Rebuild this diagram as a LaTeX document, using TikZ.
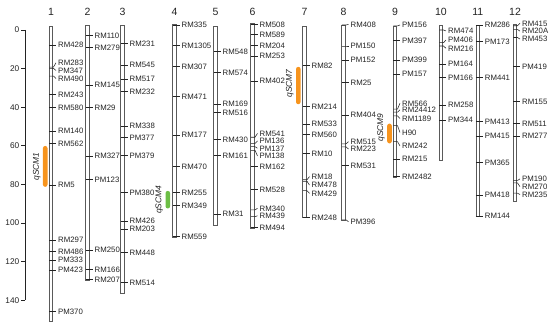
\documentclass[tikz,border=0pt]{standalone}
\usepackage{fontspec}
\setmainfont{Liberation Sans}
\usetikzlibrary{positioning}
\definecolor{qtlorange}{RGB}{247,148,29}
\definecolor{qtlgreen}{RGB}{108,190,69}
\definecolor{chromgray}{RGB}{90,90,90}
\definecolor{textgray}{RGB}{35,35,35}

\begin{document}
\begin{tikzpicture}[
    x=1pt, y={(0pt,-1.929pt)},
    chrom/.style={draw=chromgray, fill=white, line width=0.8pt},
    tick/.style={draw=textgray, line width=0.55pt},
    mlabel/.style={anchor=west, inner sep=0pt, text height=5.6pt, text depth=0pt, text=textgray, font=\fontsize{7.8}{8}\selectfont},
    axnum/.style={anchor=east, inner sep=0pt, text height=5.9pt, text depth=0pt, text=textgray, font=\fontsize{8.3}{9}\selectfont},
    chrnum/.style={inner sep=0pt, text=textgray, font=\fontsize{10.5}{11}\selectfont},
    qtlbar/.style={rectangle, rounded corners=2.3pt, minimum width=4.6pt, inner sep=0pt, anchor=north},
    qtllabel/.style={rotate=90, anchor=south, inner sep=0.5pt, text=textgray, font=\fontsize{8.4}{9}\selectfont\itshape}
]
    \useasboundingbox (0,-15.55) rectangle (550,153.45);

    % axis
    \draw[tick] (25,0) -- (25,140);
    \foreach \v in {0,20,...,140}{
        \node[axnum] (ax\v) at (19.5,\v) {\v};
        \draw[tick] ([xshift=1.5pt]ax\v.east) -- (25,\v);
    }

    % chromosome 1
    \draw[chrom] (49.25,-2.1) rectangle (52.75,151.2);
    \node[chrnum] (n1) at (51,-9.4) {1};
    \foreach \t/\l/\m in {7.8/7.8/RM428, 19.2/17/RM283, 19.9/21/PM347, 23.9/25.2/RM490, 33.3/33.3/RM243, 40.1/40.1/RM580, 52.4/52.4/RM140, 58.7/58.7/RM562, 80.4/80.4/RM5, 108.9/108.9/RM297, 114.9/114.9/RM486, 119.2/119.2/PM333, 124.4/124.4/PM423, 146/146/PM370}{
        \node[mlabel] (c1-\m) at (58,\l) {\m};
        \draw[tick] (49.25,\t) -- (53.5,\t) -- ([xshift=-2pt]c1-\m.west);
    }
    \node[qtlbar, fill=qtlorange, minimum height=40.9pt] (qtl1) at (45.2,60) {};
    \node[qtllabel] (qtl1lab) at ([xshift=-1.5pt]qtl1.west) {qSCM1};

    % chromosome 2
    \draw[chrom] (85.75,-2.6) rectangle (89.25,129.8);
    \node[chrnum] (n2) at (87.5,-9.4) {2};
    \foreach \t/\l/\m in {2.9/2.9/RM110, 9.2/9.2/RM279, 28.5/28.5/RM145, 40.1/40.1/RM29, 65.3/65.3/RM327, 77.4/77.4/PM123, 114/114/RM250, 124.1/124.1/RM166, 129.3/129.3/RM207}{
        \node[mlabel] (c2-\m) at (94.5,\l) {\m};
        \draw[tick] (85.75,\t) -- (90,\t) -- ([xshift=-2pt]c2-\m.west);
    }

    % chromosome 3
    \draw[chrom] (120.75,-2.6) rectangle (124.25,136.5);
    \node[chrnum] (n3) at (122.5,-9.4) {3};
    \foreach \t/\l/\m in {6.9/6.9/RM231, 18.1/18.1/RM545, 25.4/25.4/RM517, 32/32/RM232, 49.8/49.8/RM338, 55.7/55.7/PM377, 65.2/65.2/PM379, 84.2/84.2/PM380, 99/99/RM426, 103.2/103.2/RM203, 115.2/115.2/RM448, 131/131/RM514}{
        \node[mlabel] (c3-\m) at (129.5,\l) {\m};
        \draw[tick] (120.75,\t) -- (125,\t) -- ([xshift=-2pt]c3-\m.west);
    }

    % chromosome 4
    \draw[chrom] (172.75,-2.8) rectangle (176.25,107.3);
    \node[chrnum] (n4) at (174.5,-9.4) {4};
    \foreach \t/\l/\m in {-2.6/-2.6/RM335, 8.1/8.1/RM1305, 19/19/RM307, 34.6/34.6/RM471, 54.4/54.4/RM177, 70.9/70.9/RM470, 84.2/84.2/RM255, 91.1/91.1/RM349, 107.1/107.1/RM559}{
        \node[mlabel] (c4-\m) at (181.5,\l) {\m};
        \draw[tick] (172.75,\t) -- (177,\t) -- ([xshift=-2pt]c4-\m.west);
    }
    \node[qtlbar, fill=qtlgreen, minimum height=17.6pt] (qtl4) at (167.8,83.3) {};
    \node[qtllabel] (qtl4lab) at ([xshift=-1.5pt]qtl4.west) {qSCM4};

    % chromosome 5
    \draw[chrom] (213.75,-2.1) rectangle (217.25,101.4);
    \node[chrnum] (n5) at (215.5,-9.4) {5};
    \foreach \t/\l/\m in {11.2/11.2/RM548, 21.9/21.9/RM574, 38.4/38.4/RM169, 42.9/42.9/RM516, 56.7/56.7/RM430, 65.2/65.2/RM161, 95.4/95.4/RM31}{
        \node[mlabel] (c5-\m) at (222.5,\l) {\m};
        \draw[tick] (213.75,\t) -- (218,\t) -- ([xshift=-2pt]c5-\m.west);
    }

    % chromosome 6
    \draw[chrom] (250.75,-3.2) rectangle (254.25,102.8);
    \node[chrnum] (n6) at (252.5,-9.4) {6};
    \foreach \t/\l/\m in {-2.9/-2.9/RM508, 2.4/2.4/RM589, 8.1/8.1/RM204, 13.5/13.5/RM253, 26.4/26.4/RM402, 55.6/53.6/RM541, 58.8/57.5/PM136, 60.5/61.3/PM137, 62.4/65.3/PM138, 70.9/70.9/RM162, 82.6/82.6/RM528, 93.3/92.4/RM340, 96.8/96.3/RM439, 102.5/102.5/RM494}{
        \node[mlabel] (c6-\m) at (259.5,\l) {\m};
        \draw[tick] (250.75,\t) -- (255,\t) -- ([xshift=-2pt]c6-\m.west);
    }

    % chromosome 7
    \draw[chrom] (302.75,-2.1) rectangle (306.25,97.3);
    \node[chrnum] (n7) at (304.5,-9.4) {7};
    \foreach \t/\l/\m in {18.5/18.5/RM82, 39.8/39.8/RM214, 48.7/48.7/RM533, 54.1/54.1/RM560, 63.9/63.9/RM10, 77.6/76/RM18, 78.4/80.4/RM478, 83.3/84.7/RM429, 97.1/97.1/RM248}{
        \node[mlabel] (c7-\m) at (311.5,\l) {\m};
        \draw[tick] (302.75,\t) -- (307,\t) -- ([xshift=-2pt]c7-\m.west);
    }
    \node[qtlbar, fill=qtlorange, minimum height=37.4pt] (qtl7) at (298.3,19) {};
    \node[qtllabel] (qtl7lab) at ([xshift=-1.5pt, yshift=2pt]qtl7.west) {qSCM7};

    % chromosome 8
    \draw[chrom] (341.75,-2.6) rectangle (345.25,98.5);
    \node[chrnum] (n8) at (343.5,-9.4) {8};
    \foreach \t/\l/\m in {-2.6/-2.9/RM408, 8.3/8.3/PM150, 15.6/15.6/PM152, 27.3/27.3/RM25, 44.1/44.1/RM404, 59/57.9/RM515, 60.6/61.7/RM223, 70.3/70.3/RM531, 98.4/99.4/PM396}{
        \node[mlabel] (c8-\m) at (350.5,\l) {\m};
        \draw[tick] (341.75,\t) -- (346,\t) -- ([xshift=-2pt]c8-\m.west);
    }

    % chromosome 9
    \draw[chrom] (393.25,-2.1) rectangle (396.75,76.2);
    \node[chrnum] (n9) at (395,-9.4) {9};
    \foreach \t/\l/\m in {-2.1/-2.6/PM156, 5.5/5.5/PM397, 15.6/15.6/PM399, 22.8/22.8/PM157, 41/38/RM566, 42.6/41.4/RM24412, 44.5/45.9/RM1189, 49.6/53.1/H90, 57.9/60.1/RM242, 66.8/66.8/RM215, 76/76/RM2482}{
        \node[mlabel] (c9-\m) at (402,\l) {\m};
        \draw[tick] (393.25,\t) -- (397.5,\t) -- ([xshift=-2pt]c9-\m.west);
    }
    \node[qtlbar, fill=qtlorange, minimum height=19.9pt] (qtl9) at (389.5,48.4) {};
    \node[qtllabel] (qtl9lab) at ([xshift=-1.5pt, yshift=6pt]qtl9.west) {qSCM9};

    % chromosome 10
    \draw[chrom] (439.25,-2.6) rectangle (442.75,67.7);
    \node[chrnum] (n10) at (441,-9.4) {10};
    \foreach \t/\l/\m in {0/0.5/RM474, 6.6/5.2/PM406, 8.3/9.5/RM216, 17.6/17.6/PM164, 24.5/24.5/PM166, 38.9/38.9/RM258, 46.7/46.7/PM344}{
        \node[mlabel] (c10-\m) at (448,\l) {\m};
        \draw[tick] (439.25,\t) -- (443.5,\t) -- ([xshift=-2pt]c10-\m.west);
    }

    % chromosome 11
    \draw[chrom] (475.95,-2.6) rectangle (479.45,96.8);
    \node[chrnum] (n11) at (477.7,-9.4) {11};
    \foreach \t/\l/\m in {-2.6/-2.6/RM286, 6.1/6.1/PM173, 24.5/24.5/RM441, 47.5/47.5/PM413, 54.9/54.9/PM415, 68.7/68.7/PM365, 85.5/85.5/PM418, 96.4/96.4/RM144}{
        \node[mlabel] (c11-\m) at (484.7,\l) {\m};
        \draw[tick] (475.95,\t) -- (480.2,\t) -- ([xshift=-2pt]c11-\m.west);
    }

    % chromosome 12
    \draw[chrom] (513.25,-3) rectangle (516.75,89);
    \node[chrnum] (n12) at (515,-9.4) {12};
    \foreach \t/\l/\m in {-2.2/-3.5/RM415, -0.3/0.6/RM20A, 3.9/4.7/RM453, 19/19/PM419, 37.2/37.2/RM155, 48.4/48.4/RM511, 54.9/54.9/RM277, 78/77.2/PM190, 79.3/81.2/RM270, 84.6/85.3/RM235}{
        \node[mlabel] (c12-\m) at (522,\l) {\m};
        \draw[tick] (513.25,\t) -- (517.5,\t) -- ([xshift=-2pt]c12-\m.west);
    }

\end{tikzpicture}
\end{document}
